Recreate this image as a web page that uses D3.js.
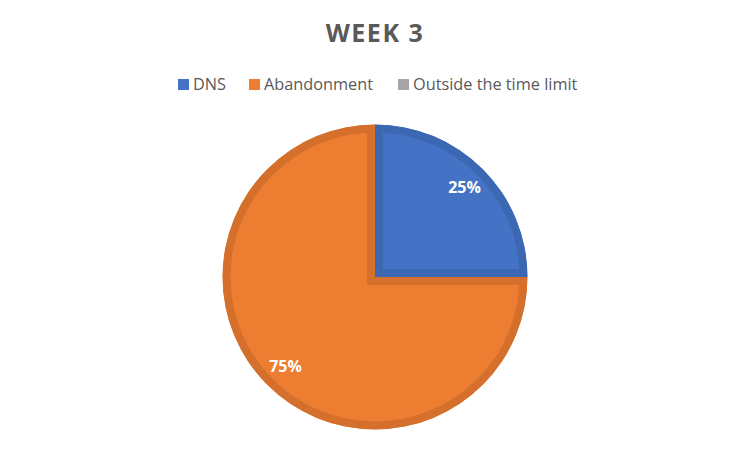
<!DOCTYPE html>
<html>
<head>
<meta charset="utf-8">
<script src="https://cdn.jsdelivr.net/npm/d3@7"></script>
<style>
  body { margin: 0; background: #fff; }
  svg text { font-family: "Open Sans", sans-serif; }
</style>
</head>
<body>
<div id="chart"></div>
<script>
var categories = ["DNS", "Abandonment", "Outside the time limit"];
var values = [25, 75, 0];
var fills = ["#4472C4", "#ED7D31", "#A5A5A5"];
var strokes = ["#3C67B3", "#D46F2C", "#959595"];

var width = 750, height = 453;
var cx = 375, cy = 277, radius = 152.5, border = 8;

var svg = d3.select("#chart").append("svg")
    .attr("width", width)
    .attr("height", height);

// title
svg.append("text")
    .attr("x", width / 2)
    .attr("y", 42)
    .attr("text-anchor", "middle")
    .style("font-size", "25px")
    .style("font-weight", "bold")
    .style("letter-spacing", "1.5px")
    .style("fill", "#595959")
    .text("WEEK 3");

// legend
var legendX = [178, 249, 398];
var legend = svg.selectAll(".legend")
    .data(categories)
    .enter().append("g")
    .attr("class", "legend")
    .attr("transform", function(d, i) { return "translate(" + legendX[i] + ",79)"; });

legend.append("rect")
    .attr("width", 11)
    .attr("height", 11)
    .attr("fill", function(d, i) { return fills[i]; });

legend.append("text")
    .attr("x", 15)
    .attr("y", 10.5)
    .style("font-size", "16.3px")
    .style("fill", "#595959")
    .text(function(d) { return d; });

// pie
var pie = d3.pie().sort(null)(values);
var arc = d3.arc().innerRadius(0).outerRadius(radius);
var labelArc = d3.arc().innerRadius(radius * 0.83).outerRadius(radius * 0.83);

var defs = svg.append("defs");
var g = svg.append("g").attr("transform", "translate(" + cx + "," + cy + ")");

pie.forEach(function(d, i) {
  if (d.value === 0) return;
  defs.append("clipPath").attr("id", "clip" + i)
    .append("path").attr("d", arc(d));
  // stroke kept inside the slice, like the original
  g.append("path")
      .attr("d", arc(d))
      .attr("fill", fills[i])
      .attr("stroke", strokes[i])
      .attr("stroke-width", border * 2)
      .attr("stroke-linejoin", "miter")
      .attr("clip-path", "url(#clip" + i + ")");
});

g.selectAll(".lbl")
    .data(pie.filter(function(d) { return d.value > 0; }))
    .enter().append("text")
    .attr("class", "lbl")
    .attr("transform", function(d) { return "translate(" + labelArc.centroid(d) + ")"; })
    .attr("text-anchor", "middle")
    .attr("dy", "0.36em")
    .style("font-size", "16px")
    .style("font-weight", "bold")
    .style("fill", "#fff")
    .text(function(d) { return d.value + "%"; });
</script>
</body>
</html>
